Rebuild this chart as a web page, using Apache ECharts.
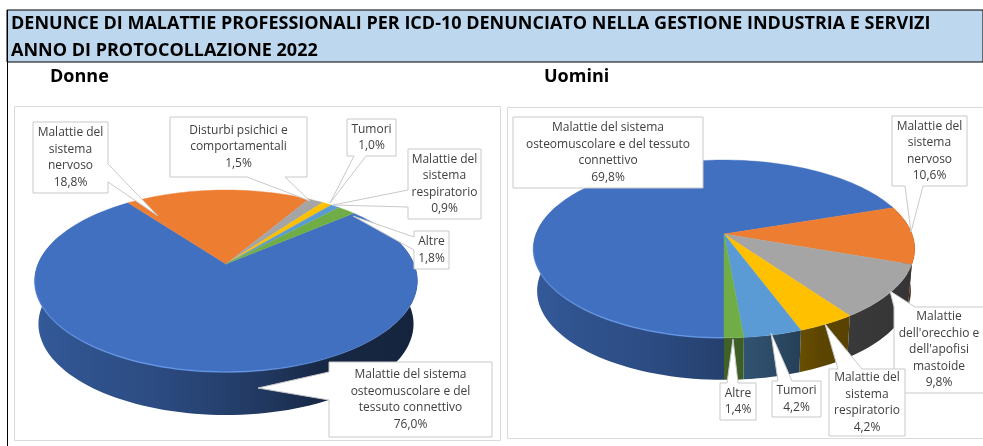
<!DOCTYPE html>
<html><head><meta charset="utf-8">
<style>html,body{margin:0;padding:0;background:#fff}#c{width:983px;height:446px}</style>
<script src="https://cdn.jsdelivr.net/npm/echarts@6/dist/echarts.min.js"></script>
</head><body><div id="c"></div>
<script>
// ---------- data ----------
const categoriesDonne = ['Malattie del sistema\nosteomuscolare e del\ntessuto connettivo','Malattie del\nsistema\nnervoso','Disturbi psichici e\ncomportamentali','Tumori','Malattie del\nsistema\nrespiratorio','Altre'];
const valuesDonne = [76.0,18.8,1.5,1.0,0.9,1.8];
const categoriesUomini = ['Malattie del sistema\nosteomuscolare e del tessuto\nconnettivo','Malattie del\nsistema\nnervoso',"Malattie\ndell'orecchio e\ndell'apofisi\nmastoide",'Malattie del\nsistema\nrespiratorio','Tumori','Altre'];
const valuesUomini = [69.8,10.6,9.8,4.2,4.2,1.4];
const titleLine1 = 'DENUNCE DI MALATTIE PROFESSIONALI PER ICD-10 DENUNCIATO NELLA GESTIONE INDUSTRIA E SERVIZI';
const titleLine2 = 'ANNO DI PROTOCOLLAZIONE 2022';
const groupDonne = 'Donne', groupUomini = 'Uomini';

// ---------- styles / layout ----------
const palette = {blue:'#4170C0',orange:'#ED7D31',gray:'#A5A5A5',yellow:'#FFC000',sky:'#5B9BD5',green:'#70AD47'};
const coloursDonne = ['blue','orange','gray','yellow','sky','green'];
const coloursUomini = ['blue','orange','gray','yellow','sky','green'];
const pieDonne  = {cx:226,cy:264,rx:188,ry:87.8,k:0.187,depth:43,shrink:0.98,start:49.6};
const pieUomini = {cx:724,cy:234,rx:188,ry:86.4,k:0.168,depth:42,shrink:0.98,start:180};
// box:[x0,y0,x1,y1], side of the tail, tail base interval, tail tip
const calloutsDonne = [
 {box:[329,362,492,437],side:'l',base:[372,400],tip:[258,388]},
 {box:[33,122,108,193],side:'r',base:[164,182],tip:[158,216]},
 {box:[170,117,307,177],side:'b',base:[247,285],tip:[310,201]},
 {box:[347,119,396,156],side:'b',base:[354,366],tip:[330,203]},
 {box:[408,149,481,219],side:'l',base:[190,207],tip:[333,205]},
 {box:[414,231,449,269],side:'l',base:[237,250],tip:[353,216]}
];
const calloutsUomini = [
 {box:[513,117,703,188]},
 {box:[892,116,967,186],side:'b',base:[905,923],tip:[911,232]},
 {box:[894,307,984,393],side:'t',base:[894,915],tip:[890,291]},
 {box:[829,369,905,436],side:'t',base:[838,862],tip:[825,324]},
 {box:[772,381,821,417],side:'t',base:[778,792],tip:[771,333]},
 {box:[720,383,756,420],side:'t',base:[727,738],tip:[733,339]}
];
const shade = [[0,.80],[.12,.74],[.3,.68],[.45,.60],[.6,.50],[.75,.36],[1,.32]];

// ---------- geometry ----------
const rad = d => d*Math.PI/180;
function topPt(p,t){const c=Math.cos(rad(t)),s=Math.sin(rad(t)),w=1+p.k*c;return [p.cx+p.rx*s/w,p.cy-p.ry*c/w];}
function botPt(p,t){const a=topPt(p,t);return [p.cx+(a[0]-p.cx)*p.shrink,a[1]+p.depth];}
function arc(fn,p,a,b){const n=Math.max(2,Math.ceil(Math.abs(b-a)/2)),r=[];for(let i=0;i<=n;i++)r.push(fn(p,a+(b-a)*i/n));return r;}
function spans(vals,p){let cur=p.start;const tot=vals.reduce((x,y)=>x+y,0);return vals.map(v=>{const s=cur;cur+=v/tot*360;return [s,cur];});}
function darken(hex,f){const n=parseInt(hex.slice(1),16);return `rgb(${Math.round((n>>16&255)*f)},${Math.round((n>>8&255)*f)},${Math.round((n&255)*f)})`;}

function wallSeries(vals,cols,p){
  const sp=spans(vals,p);
  return {type:'custom',coordinateSystem:'none',silent:true,z:2,data:vals,animation:false,
    renderItem(params){
      const [s,e]=sp[params.dataIndex],kids=[];
      const hw=p.rx*1.02,grad=new echarts.graphic.LinearGradient(p.cx-hw,0,p.cx+hw,0,
        shade.map(([o,f])=>({offset:o,color:darken(palette[cols[params.dataIndex]],f)})),true);
      [[70,290],[430,650]].forEach(([lo,hi])=>{
        const a=Math.max(s,lo),b=Math.min(e,hi);
        if(b>a){kids.push({type:'polygon',shape:{points:arc(topPt,p,a,b).concat(arc(botPt,p,b,a))},style:{fill:grad}});}
      });
      return {type:'group',children:kids};
    }};
}
function topSeries(vals,cols,p){
  const sp=spans(vals,p);
  return {type:'custom',coordinateSystem:'none',silent:true,z:3,data:vals,animation:false,
    renderItem(params){
      const [s,e]=sp[params.dataIndex],c=palette[cols[params.dataIndex]];
      const kids=[{type:'polygon',shape:{points:[[p.cx,p.cy]].concat(arc(topPt,p,s,e))},style:{fill:c,stroke:c,lineWidth:.4}}];
      if(params.dataIndex===0){
        // lighter bevel on the front rim of the largest slice
        const a=Math.max(s,95),b=Math.min(e,262);
        const g=new echarts.graphic.LinearGradient(p.cx-p.rx,0,p.cx+p.rx,0,[
          {offset:0,color:'rgba(105,155,235,.35)'},{offset:.2,color:'rgba(105,155,235,.8)'},{offset:.6,color:'rgba(105,155,235,.7)'},{offset:.85,color:'rgba(105,155,235,0)'},{offset:1,color:'rgba(105,155,235,0)'}],true);
        kids.push({type:'polyline',shape:{points:arc(topPt,p,a,b)},style:{fill:null,stroke:g,lineWidth:1.5}});
      }
      return {type:'group',children:kids};
    }};
}
function calloutPoints(o){
  const [x0,y0,x1,y1]=o.box,b=o.base,t=o.tip;
  if(o.side==='l')return [[x0,y0],[x1,y0],[x1,y1],[x0,y1],[x0,b[1]],t,[x0,b[0]]];
  if(o.side==='r')return [[x0,y0],[x1,y0],[x1,b[0]],t,[x1,b[1]],[x1,y1],[x0,y1]];
  if(o.side==='t')return [[x0,y0],[b[0],y0],t,[b[1],y0],[x1,y0],[x1,y1],[x0,y1]];
  if(o.side==='b')return [[x0,y0],[x1,y0],[x1,y1],[b[1],y1],t,[b[0],y1],[x0,y1]];
  return [[x0,y0],[x1,y0],[x1,y1],[x0,y1]];
}
function fmt(v){return v.toFixed(1).replace('.',',')+'%';}
function labelSeries(vals,cats,calls){
  return {type:'custom',coordinateSystem:'none',silent:true,z:5,data:vals,animation:false,
    renderItem(params){
      const i=params.dataIndex,o=calls[i];
      return {type:'group',children:[
        {type:'polygon',shape:{points:calloutPoints(o)},style:{fill:'#fff',stroke:'#C9C9C9',lineWidth:1}},
        {type:'text',style:{x:(o.box[0]+o.box[2])/2,y:(o.box[1]+o.box[3])/2,text:cats[i]+'\n'+fmt(vals[i]),
          align:'center',verticalAlign:'middle',fill:'#404040',font:'12px "Open Sans"',lineHeight:16.5}}
      ]};
    }};
}

const chart=echarts.init(document.getElementById('c'),null,{renderer:'canvas'});
const titleFont={fontFamily:'Open Sans',fontWeight:'bold',color:'#000'};
chart.setOption({
  animation:false,
  backgroundColor:'#fff',
  title:[
    {text:titleLine1,left:11,top:14,padding:0,textStyle:{...titleFont,fontSize:18,lineHeight:20}},
    {text:titleLine2,left:11,top:41,padding:0,textStyle:{...titleFont,fontSize:18,lineHeight:20}},
    {text:groupDonne,left:50,top:67,padding:0,textStyle:{...titleFont,fontSize:18,lineHeight:20}},
    {text:groupUomini,left:544,top:67,padding:0,textStyle:{...titleFont,fontSize:18,lineHeight:20}}
  ],
  graphic:[
    {type:'rect',z:-3,shape:{x:7,y:10,width:976,height:52},style:{fill:'#BDD7EE',stroke:'#000',lineWidth:1}},
    {type:'line',z:-2,shape:{x1:7.5,y1:10,x2:7.5,y2:446},style:{stroke:'#000',lineWidth:1}},
    {type:'rect',z:-2,shape:{x:14.5,y:106.5,width:486,height:334},style:{fill:'#fff',stroke:'#DADADA',lineWidth:1}},
    {type:'rect',z:-2,shape:{x:507.5,y:107.5,width:480,height:331},style:{fill:'#fff',stroke:'#DADADA',lineWidth:1}}
  ],
  series:[
    wallSeries(valuesDonne,coloursDonne,pieDonne),
    topSeries(valuesDonne,coloursDonne,pieDonne),
    labelSeries(valuesDonne,categoriesDonne,calloutsDonne),
    wallSeries(valuesUomini,coloursUomini,pieUomini),
    topSeries(valuesUomini,coloursUomini,pieUomini),
    labelSeries(valuesUomini,categoriesUomini,calloutsUomini)
  ]
});
</script></body></html>
